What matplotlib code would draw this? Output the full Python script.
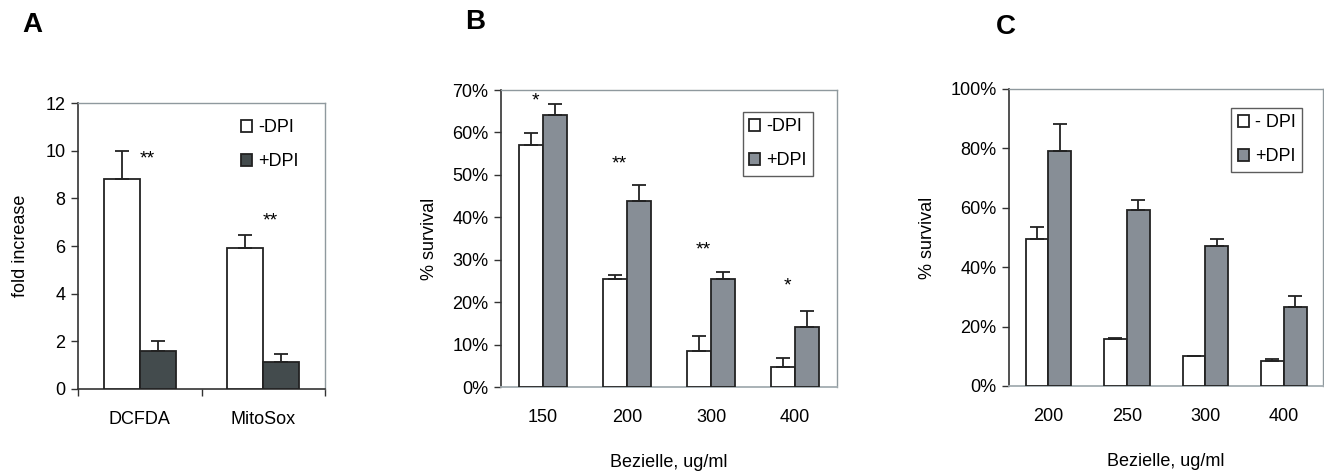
import numpy as np
import matplotlib
matplotlib.use("Agg")
import matplotlib.pyplot as plt
from matplotlib.ticker import FuncFormatter

plt.rcParams["font.family"] = ["Liberation Sans", "DejaVu Sans"]
plt.rcParams["font.size"] = 13

# ---------------- data ----------------
a_cats = ["DCFDA", "MitoSox"]
a_minus = [8.8, 5.9]
a_minus_err = [1.2, 0.55]
a_plus = [1.6, 1.15]
a_plus_err = [0.4, 0.3]
a_stars = ["**", "**"]
a_star_y = [9.65, 7.05]

b_cats = ["150", "200", "300", "400"]
b_minus = [57.0, 25.5, 8.6, 4.8]
b_minus_err = [2.8, 0.8, 3.4, 2.1]
b_plus = [64.2, 43.8, 25.5, 14.1]
b_plus_err = [2.4, 3.7, 1.6, 3.8]
b_stars = ["*", "**", "**", "*"]
b_star_y = [67.5, 52.5, 32.3, 23.8]

c_cats = ["200", "250", "300", "400"]
c_minus = [49.5, 15.7, 10.2, 8.5]
c_minus_err = [4.1, 0.6, 0.0, 0.6]
c_plus = [79.0, 59.1, 47.0, 26.6]
c_plus_err = [9.2, 3.6, 2.5, 3.7]

WHITE = "white"
DARK = "#434b4d"
GREY = "#878e96"
EDGE = "#222222"
FRAME = "#8f999e"

fig = plt.figure(figsize=(13.24, 4.71), dpi=100)
axA = fig.add_axes([0.0589, 0.1741, 0.1866, 0.6072])
axB = fig.add_axes([0.3784, 0.1783, 0.2538, 0.6306])
axC = fig.add_axes([0.7621, 0.1805, 0.2372, 0.6306])

W = 0.29
LEG = dict(fontsize=13, handlelength=0.6, handleheight=0.6, handletextpad=0.35,
           labelspacing=0.95, borderpad=0.35, borderaxespad=0.0, loc="upper right")


def draw_bars(ax, cats, m, me, p, pe, pcol):
    x = np.arange(len(cats))
    ekw = dict(ecolor=EDGE, elinewidth=1.3, capsize=5, capthick=1.3)
    ax.bar(x - W / 2, m, W, color=WHITE, edgecolor=EDGE, linewidth=1.3,
           yerr=[np.zeros(len(m)), me], error_kw=ekw, label="-DPI", zorder=3)
    ax.bar(x + W / 2, p, W, color=pcol, edgecolor=EDGE, linewidth=1.3,
           yerr=[np.zeros(len(p)), pe], error_kw=ekw, label="+DPI", zorder=3)
    ax.set_xlim(-0.5, len(cats) - 0.5)
    for s in ("top", "right"):
        ax.spines[s].set_color(FRAME)
        ax.spines[s].set_linewidth(1.0)
    ax.spines["left"].set_color("#333333")
    ax.spines["left"].set_linewidth(1.2)
    ax.tick_params(axis="y", direction="out", length=5, width=1.0,
                   color="#333333", labelsize=13, pad=4)
    return x


# ---------------- A ----------------
x = draw_bars(axA, a_cats, a_minus, a_minus_err, a_plus, a_plus_err, DARK)
axA.set_ylim(0, 12)
axA.set_yticks(range(0, 13, 2))
axA.set_xticks(x)
axA.set_xticklabels(a_cats, fontsize=13)
axA.set_xticks([-0.5, 0.5, 1.5], minor=True)
axA.tick_params(axis="x", which="major", length=0, pad=16)
axA.tick_params(axis="x", which="minor", length=5, width=1.0, color="#333333")
axA.spines["bottom"].set_color("#333333")
axA.spines["bottom"].set_linewidth(1.2)
axA.set_ylabel("fold increase", fontsize=13, labelpad=12)
for xi, s, yy in zip(x, a_stars, a_star_y):
    axA.text(xi + 0.06, yy, s, ha="center", va="center", fontsize=14)
axA.legend(frameon=False, bbox_to_anchor=(0.92, 0.965), **LEG)
axA.text(-0.227, 1.273, "A", transform=axA.transAxes, fontsize=20,
         fontweight="bold", ha="left", va="center")

# ---------------- B ----------------
pct = FuncFormatter(lambda v, _: f"{v:.0f}%")
x = draw_bars(axB, b_cats, b_minus, b_minus_err, b_plus, b_plus_err, GREY)
axB.set_ylim(0, 70)
axB.set_yticks(range(0, 71, 10))
axB.yaxis.set_major_formatter(pct)
axB.set_xticks(x)
axB.set_xticklabels(b_cats, fontsize=13)
axB.tick_params(axis="x", length=0, pad=16)
axB.spines["bottom"].set_color("#a3acb1")
axB.spines["bottom"].set_linewidth(1.3)
axB.set_ylabel("% survival", fontsize=13, labelpad=10)
axB.set_xlabel("Bezielle, ug/ml", fontsize=13, labelpad=20)
for xi, s, yy in zip(x, b_stars, b_star_y):
    axB.text(xi - 0.09, yy, s, ha="center", va="center", fontsize=14)
legB = axB.legend(frameon=True, fancybox=False, bbox_to_anchor=(0.929, 0.926), **LEG)
legB.get_frame().set_edgecolor("#333333")
legB.get_frame().set_linewidth(1.0)
axB.text(-0.107, 1.229, "B", transform=axB.transAxes, fontsize=20,
         fontweight="bold", ha="left", va="center")

# ---------------- C ----------------
x = draw_bars(axC, c_cats, c_minus, c_minus_err, c_plus, c_plus_err, GREY)
axC.set_ylim(0, 100)
axC.set_yticks(range(0, 101, 20))
axC.yaxis.set_major_formatter(pct)
axC.set_xticks(x)
axC.set_xticklabels(c_cats, fontsize=13)
axC.tick_params(axis="x", length=0, pad=16)
axC.spines["bottom"].set_color("#a3acb1")
axC.spines["bottom"].set_linewidth(1.3)
axC.set_ylabel("% survival", fontsize=13, labelpad=10)
axC.set_xlabel("Bezielle, ug/ml", fontsize=13, labelpad=20)
hC = axC.get_legend_handles_labels()[0]
legC = axC.legend(hC, ["- DPI", "+DPI"], frameon=True, fancybox=False,
                  bbox_to_anchor=(0.933, 0.936), **LEG)
legC.get_frame().set_edgecolor("#333333")
legC.get_frame().set_linewidth(1.0)
axC.text(-0.041, 1.209, "C", transform=axC.transAxes, fontsize=20,
         fontweight="bold", ha="left", va="center")

fig.savefig("out.png", dpi=100)
